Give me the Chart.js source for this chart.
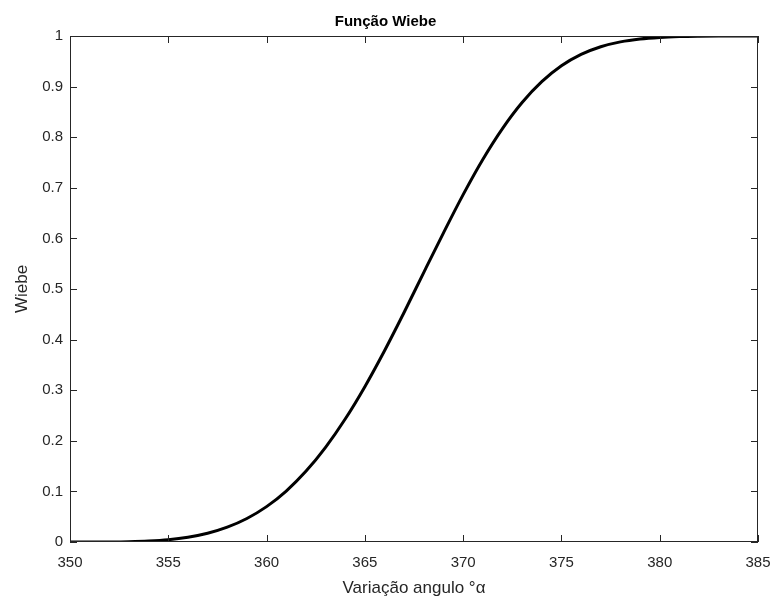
<!DOCTYPE html>
<html>
<head>
<meta charset="utf-8">
<title>Função Wiebe</title>
<script src="https://cdn.jsdelivr.net/npm/chart.js@4.4.1/dist/chart.umd.min.js"></script>
<style>
  html, body { margin: 0; padding: 0; background: #fff; }
  #wrap { width: 771px; height: 599px; }
</style>
</head>
<body>
<div id="wrap"><canvas id="myChart" width="771" height="599"></canvas></div>
<script>
// crank angle (degrees) and burned mass fraction
var angles = [350, 351, 352, 353, 354, 355, 356, 357, 358, 359,
              360, 361, 362, 363, 364, 365, 366, 367, 368, 369,
              370, 371, 372, 373, 374, 375, 376, 377, 378, 379,
              380, 381, 382, 383, 384, 385];
var wiebe = [0, 0.0000, 0.0001, 0.0006, 0.0019, 0.0045, 0.0094, 0.0173, 0.0293, 0.0465,
             0.0699, 0.1007, 0.1396, 0.187, 0.243, 0.307, 0.378, 0.454, 0.533, 0.611,
             0.6865, 0.756, 0.817, 0.8685, 0.9097, 0.9411, 0.9636, 0.9788, 0.9884, 0.9941,
             0.9972, 0.9988, 0.9995, 0.9998, 0.9999, 1.0];

var xTicks = [350, 355, 360, 365, 370, 375, 380, 385];
var xTickLabels = ['350', '355', '360', '365', '370', '375', '380', '385'];
var yTicks = [0, 0.1, 0.2, 0.3, 0.4, 0.5, 0.6, 0.7, 0.8, 0.9, 1];
var yTickLabels = ['0', '0.1', '0.2', '0.3', '0.4', '0.5', '0.6', '0.7', '0.8', '0.9', '1'];

var axisColor = '#262626';
var fontFamily = '"Liberation Sans", Arial, Helvetica, sans-serif';

var points = [];
for (var i = 0; i < angles.length; i++) {
    points.push({x: angles[i], y: wiebe[i]});
}

// box around the plot with inward ticks on all four sides
var boxTicks = {
    id: 'boxTicks',
    afterDraw: function(chart) {
        var ctx = chart.ctx;
        var a = chart.chartArea;
        var xs = chart.scales.x, ys = chart.scales.y;
        var len = 7;
        ctx.save();
        ctx.strokeStyle = axisColor;
        ctx.lineWidth = 1;
        ctx.strokeRect(a.left + 0.5, a.top + 0.5, a.right - a.left - 1, a.bottom - a.top - 1);
        ctx.beginPath();
        xTicks.forEach(function(v) {
            var px = Math.round(xs.getPixelForValue(v)) + 0.5;
            ctx.moveTo(px, a.bottom); ctx.lineTo(px, a.bottom - len);
            ctx.moveTo(px, a.top); ctx.lineTo(px, a.top + len);
        });
        yTicks.forEach(function(v) {
            var py = Math.round(ys.getPixelForValue(v)) + 0.5;
            ctx.moveTo(a.left, py); ctx.lineTo(a.left + len, py);
            ctx.moveTo(a.right, py); ctx.lineTo(a.right - len, py);
        });
        ctx.stroke();
        ctx.restore();
    }
};

var ctx = document.getElementById('myChart').getContext('2d');
var chart = new Chart(ctx, {
    type: 'line',
    data: {
        datasets: [{
            data: points,
            borderColor: '#000000',
            borderWidth: 3,
            pointRadius: 0,
            fill: false,
            cubicInterpolationMode: 'monotone'
        }]
    },
    options: {
        responsive: false,
        animation: false,
        layout: { padding: { left: 0, right: 0, top: 0, bottom: 0 } },
        plugins: {
            legend: { display: false },
            tooltip: { enabled: false },
            title: {
                display: true,
                text: 'Função Wiebe',
                color: '#000000',
                font: { family: fontFamily, size: 15, weight: 'bold', lineHeight: 1.2 },
                padding: { top: 13, bottom: 5 }
            }
        },
        scales: {
            x: {
                type: 'linear',
                min: 350,
                max: 385,
                afterBuildTicks: function(scale) {
                    scale.ticks = xTicks.map(function(v) { return {value: v}; });
                },
                afterFit: function(scale) {
                    scale.height = 57;
                    scale.paddingLeft = 0;
                    scale.paddingRight = 13;
                },
                grid: { display: false, drawTicks: false },
                border: { display: false },
                ticks: {
                    color: axisColor,
                    padding: 12,
                    maxRotation: 0,
                    font: { family: fontFamily, size: 15 },
                    callback: function(v) { return xTickLabels[xTicks.indexOf(v)]; }
                },
                title: {
                    display: true,
                    text: 'Variação angulo °α',
                    color: axisColor,
                    padding: 0,
                    font: { family: fontFamily, size: 17 }
                }
            },
            y: {
                min: 0,
                max: 1,
                afterBuildTicks: function(scale) {
                    scale.ticks = yTicks.map(function(v) { return {value: v}; });
                },
                afterFit: function(scale) { scale.width = 70; },
                grid: { display: false, drawTicks: false },
                border: { display: false },
                ticks: {
                    color: axisColor,
                    padding: 7,
                    font: { family: fontFamily, size: 15 },
                    callback: function(v) { return yTickLabels[yTicks.indexOf(v)]; }
                },
                title: {
                    display: true,
                    text: 'Wiebe',
                    color: axisColor,
                    padding: 12,
                    font: { family: fontFamily, size: 17 }
                }
            }
        }
    },
    plugins: [boxTicks]
});
</script>
</body>
</html>
